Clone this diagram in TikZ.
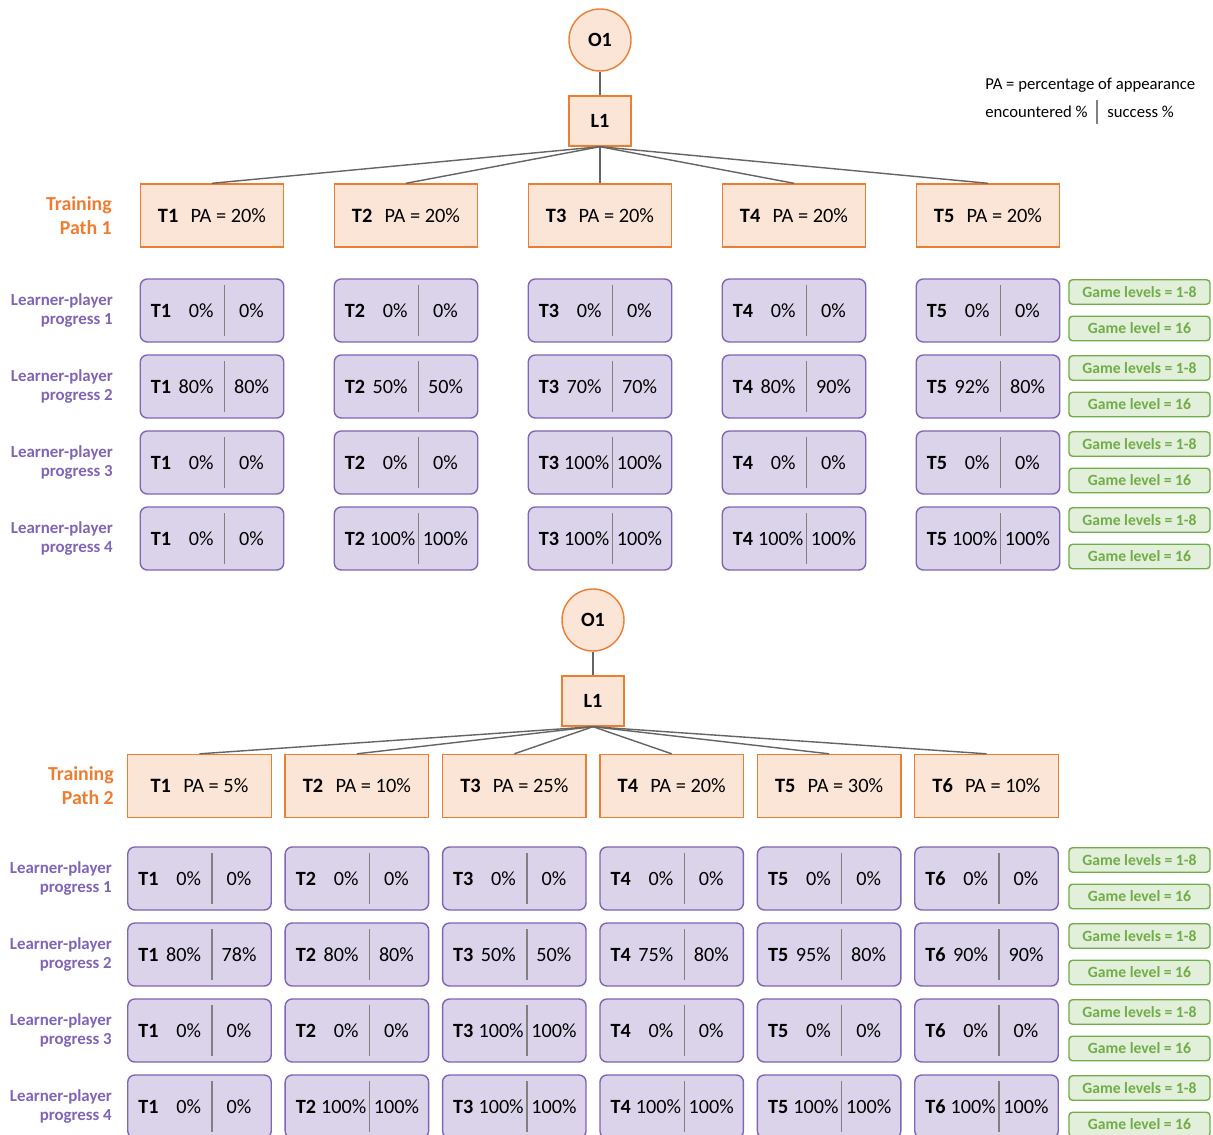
\documentclass[tikz,border=0pt]{standalone}
\usepackage{fontspec}
\setmainfont{Carlito}
\usetikzlibrary{calc}
\definecolor{tporange}{RGB}{237,125,49}
\definecolor{tppeach}{RGB}{251,229,214}
\definecolor{lppurple}{RGB}{128,100,182}
\definecolor{lplavender}{RGB}{218,211,234}
\definecolor{glgreen}{RGB}{112,173,71}
\definecolor{glfill}{RGB}{226,239,218}
\definecolor{linegray}{RGB}{100,100,100}

\tikzset{
  conn/.style={draw=linegray, line width=0.8pt},
  divider/.style={draw=gray, line width=0.85pt},
  objnode/.style={circle, draw=tporange, fill=tppeach, thick, minimum size=1.24cm, inner sep=0pt, font=\fontsize{11.5}{13}\selectfont\bfseries},
  lvlnode/.style={draw=tporange, fill=tppeach, thick, minimum width=1.24cm, minimum height=1cm, inner sep=0pt, font=\fontsize{11.5}{13}\selectfont\bfseries},
  tpnode/.style={draw=tporange, fill=tppeach, thick, minimum width=2.87cm, minimum height=1.26cm, inner sep=0pt, font=\fontsize{11.6}{13}\selectfont},
  lpnode/.style={draw=lppurple, fill=lplavender, thick, rounded corners=4pt, minimum width=2.87cm, minimum height=1.26cm, inner sep=0pt},
  pctext/.style={inner sep=0pt, font=\fontsize{11.5}{13}\selectfont},
  glnode/.style={draw=glgreen, fill=glfill, thick, rounded corners=2pt, minimum width=2.82cm, minimum height=0.49cm, inner sep=0pt, text=glgreen, font=\fontsize{8.9}{10}\selectfont\bfseries},
  tplabel/.style={anchor=east, align=right, text=tporange, font=\fontsize{11.3}{13.6}\selectfont\bfseries},
  lplabel/.style={anchor=east, align=right, text=lppurple, font=\fontsize{9.6}{11.3}\selectfont\bfseries},
  legend/.style={anchor=west, inner sep=0pt, font=\fontsize{9.5}{11}\selectfont}
}

% learner-player box: name, x, y, task, encountered, success
\newcommand{\lpbox}[6]{%
  \node[lpnode] (#1) at ({#2},{#3}) {};
  \draw[divider] ($(#1.north west)+(85,7)$) -- ($(#1.south west)+(85,-7)$);
  \node[pctext, anchor=west] (#1-e) at ($(#1.west)+(11,0)$) {\textbf{#4}\ifnum#5>99\hspace{0.25em}#5\%\else\makebox[2.1em][r]{#5\%}\fi};
  \node[pctext] (#1-s) at ($(#1.west)+(112,0)$) {#6\%};
}

\begin{document}
\begin{tikzpicture}[x=0.02cm, y=-0.02cm]
  \useasboundingbox (0,0) rectangle (1213,1135);

  %--- Legend ---
  \node[legend] (leg1) at (985,85) {PA = percentage of appearance};
  \node[legend] (leg2) at (985,112) {encountered \%};
  \node[legend] (leg3) at (1107,112) {success \%};
  \draw[divider] (1097,100) -- (1097,124);

  %--- Training path 1 ---
  \node[objnode] (o1a) at (600,40) {O1};
  \node[lvlnode] (l1a) at (600,121) {L1};
  \draw[conn] (o1a) -- (l1a);
  \node[tplabel] (tpa) at (118,216) {Training\\Path 1};
  \foreach \c in {1,...,5}{
    \node[tpnode] (ta\c) at ({212+(\c-1)*194},215.5) {\textbf{T\c}\hspace{0.6em}PA = 20\%};
    \draw[conn] (l1a.south) -- (ta\c.north);
  }
  \foreach \r/\y/\vals in {1/310.5/{0/0,0/0,0/0,0/0,0/0},
                           2/386.5/{80/80,50/50,70/70,80/90,92/80},
                           3/462.5/{0/0,0/0,100/100,0/0,0/0},
                           4/538.5/{0/0,100/100,100/100,100/100,100/100}}{
    \node[lplabel] (lpa\r) at (119,\y) {Learner-player\\progress \r};
    \foreach \e/\s [count=\c] in \vals{
      \lpbox{la-\r-\c}{212+(\c-1)*194}{\y}{T\c}{\e}{\s}
    }
    \node[glnode] (ga\r) at (1139.5,\y-18.5) {Game levels = 1-8};
    \node[glnode] (gb\r) at (1139.5,\y+18) {Game level = 16};
  }

  %--- Training path 2 ---
  \node[objnode] (o1b) at (593,620) {O1};
  \node[lvlnode] (l1b) at (593,701) {L1};
  \draw[conn] (o1b) -- (l1b);
  \node[tplabel] (tpb) at (120,786) {Training\\Path 2};
  \foreach \pa [count=\c] in {5,10,25,20,30,10}{
    \node[tpnode] (tb\c) at ({199.5+(\c-1)*157.4},786) {\textbf{T\c}\hspace{0.6em}PA = \pa\%};
    \draw[conn] (l1b.south) -- (tb\c.north);
  }
  \foreach \r/\y/\vals in {1/878.5/{0/0,0/0,0/0,0/0,0/0,0/0},
                           2/954.5/{80/78,80/80,50/50,75/80,95/80,90/90},
                           3/1030.5/{0/0,0/0,100/100,0/0,0/0,0/0},
                           4/1106.5/{0/0,100/100,100/100,100/100,100/100,100/100}}{
    \node[lplabel] (lpb\r) at (118,\y) {Learner-player\\progress \r};
    \foreach \e/\s [count=\c] in \vals{
      \lpbox{lb-\r-\c}{199.5+(\c-1)*157.4}{\y}{T\c}{\e}{\s}
    }
    \node[glnode] (gc\r) at (1139.5,\y-18.5) {Game levels = 1-8};
    \node[glnode] (gd\r) at (1139.5,\y+18) {Game level = 16};
  }
\end{tikzpicture}
\end{document}
